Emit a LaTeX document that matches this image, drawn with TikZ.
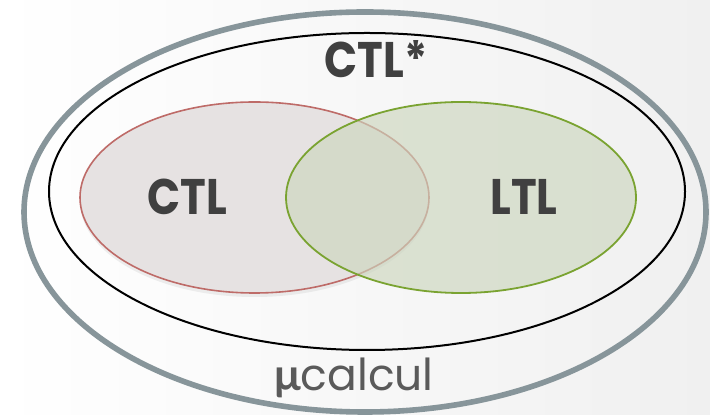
\documentclass[tikz,border=0pt]{standalone}
\usepackage{fontspec}
\usetikzlibrary{shadows}
\newfontfamily\setfont[FakeStretch=0.87]{Poppins}
\newfontfamily\calcfont{Poppins}
\newfontfamily\greekfont{Lato}
\definecolor{borderOuter}{HTML}{87959A}
\definecolor{borderCTL}{HTML}{BE6B68}
\definecolor{borderLTL}{HTML}{7AA331}
\definecolor{fillCTL}{HTML}{E6E2E2}
\definecolor{fillLTL}{HTML}{CCD6BE}
\definecolor{textSet}{HTML}{404040}
\definecolor{textCalc}{HTML}{5A5A5A}
\definecolor{bgRight}{HTML}{F0F0F0}

\begin{document}
\begin{tikzpicture}[
    x=0.5pt, y=-0.5pt,
    setlabel/.style={anchor=base, inner sep=0pt, text=textSet, font=\setfont\bfseries\fontsize{25}{25}\selectfont},
    setshadow/.style={drop shadow={shadow xshift=0pt, shadow yshift=-2pt, opacity=0.12}}
]

    % ==========================================
    % 1. BACKGROUND
    % ==========================================
    \useasboundingbox (0,0) rectangle (710,415);
    \shade[left color=white, middle color=white, right color=bgRight] (0,0) rectangle (710,415);

    % ==========================================
    % 2. OUTER SETS
    % ==========================================

    % mu-calculus
    \draw[borderOuter, line width=2.8pt] (365,212) ellipse [x radius=341, y radius=200];

    % CTL*
    \draw[black, line width=1pt] (367,191.5) ellipse [x radius=318, y radius=158.5];

    % ==========================================
    % 3. CTL AND LTL (overlapping)
    % ==========================================
    \fill[fillCTL, setshadow] (254.5,197.5) ellipse [x radius=174.5, y radius=95.5];
    \draw[borderCTL, line width=0.8pt] (254.5,197.5) ellipse [x radius=174.5, y radius=95.5];

    \fill[fillLTL, fill opacity=0.65] (461,197.5) ellipse [x radius=175, y radius=95.5];
    \draw[borderLTL, line width=0.9pt] (461,197.5) ellipse [x radius=175, y radius=95.5];

    % ==========================================
    % 4. LABELS
    % ==========================================
    \node[setlabel] (ctlstar) at (376,78) {CTL*};
    \node[setlabel] (ctl) at (187,215) {CTL};
    \node[setlabel] (ltl) at (524,215) {LTL};

    \node[anchor=base, inner sep=0pt, text=textCalc, font=\calcfont\fontsize{22}{22}\selectfont] (mucalc) at (354,391)
        {{\greekfont\bfseries μ}calcul};

\end{tikzpicture}
\end{document}
